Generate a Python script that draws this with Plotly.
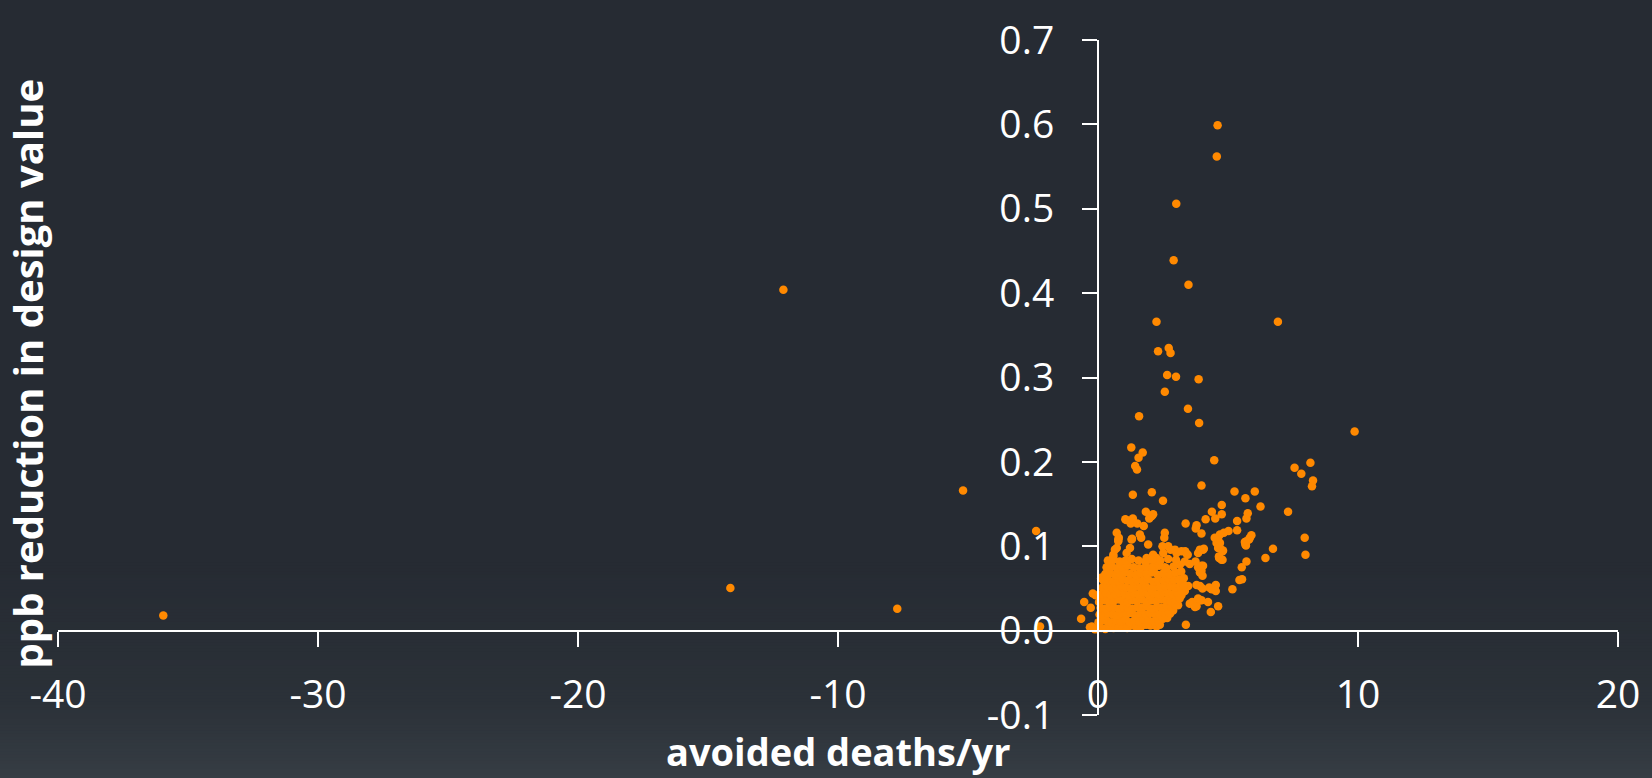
import plotly.graph_objects as go

# ---------------- data (avoided deaths/yr , ppb reduction in design value) ----------------
out_deaths = [-35.95, -14.14, -12.10, -7.72, -5.19, -2.38, -2.23]
out_ppb = [0.018, 0.0505, 0.404, 0.026, 0.166, 0.118, 0.005]

upper_deaths = [4.60, 4.57, 3.01, 2.91, 3.48, 2.25, 6.92, 2.31, 2.72, 2.79, 2.66, 3.00, 3.87, 2.57,
                3.46, 1.58, 3.89, 9.87, 1.28, 1.72, 1.56, 1.43, 1.50, 4.47, 8.17, 7.56, 7.82, 8.27,
                8.23, 3.98, 5.25, 6.03, 2.07, 1.34, 5.67, 2.50, 4.76, 6.25, 7.31, 4.38, 1.84, 5.76,
                4.76, 2.12, 2.07, 2.02, 1.97, 5.71, 4.51, 1.34, 1.09, 1.05, 4.14, 5.35, 3.37, 1.26,
                1.51, 3.79, 1.76, 3.76, 5.35, 5.02, 4.84, 2.57, 0.72, 3.98, 1.61, 4.69, 5.84, 7.95,
                4.62, 0.80, 1.66, 2.55, 1.31, 0.78, 5.71, 4.56, 5.67, 2.48, 2.70, 4.69, 6.73, 4.07,
                2.79, 3.92, 0.65, 2.96, 4.04, 4.79, 3.35, 3.21, 3.02, 3.85, 3.41, 2.12, 3.45, 7.98,
                4.65, 0.59, 6.44, 2.25, 4.75, 1.96, 3.75, 5.71, 3.34, 3.53, 3.98, 4.04, 3.85, 5.53,
                1.81, 2.15, 3.98, 3.92, 0.12, 5.44, 5.54, 4.53, 3.79, 3.92, 3.15, 3.47, 4.28, 4.02,
                5.17, 4.37, 4.53, 3.34, -0.20, -0.09, 3.15, 3.21, 3.92, 3.98, 3.85, -0.53, 0.04,
                4.23, 3.62, 3.02, 3.53, 2.83, 3.08, 4.62, 3.79, 3.73, -0.28, 2.89, 4.34, 2.77, -0.65,
                3.38, -0.31, -0.12, 4.02, 5.90, 5.81, 5.65, 5.69, 4.49, 4.69, 4.62, 4.81, 4.66, 4.79,
                0.78, 1.29, 1.93, 1.87, 1.23, 1.10, 0.72, 0.59, 2.25, 2.51, 2.57, 2.12, 1.74, 0.14,
                -0.24, 2.25]
upper_ppb = [0.599, 0.562, 0.506, 0.439, 0.410, 0.366, 0.366, 0.331, 0.335, 0.329, 0.303, 0.301, 0.298,
             0.283, 0.263, 0.254, 0.246, 0.236, 0.217, 0.211, 0.205, 0.195, 0.191, 0.202, 0.199,
             0.193, 0.186, 0.178, 0.171, 0.172, 0.165, 0.165, 0.164, 0.161, 0.157, 0.154, 0.149,
             0.147, 0.141, 0.141, 0.141, 0.139, 0.138, 0.138, 0.136, 0.135, 0.133, 0.133, 0.133,
             0.133, 0.131, 0.132, 0.132, 0.130, 0.127, 0.127, 0.127, 0.125, 0.124, 0.121, 0.119,
             0.118, 0.116, 0.116, 0.116, 0.115, 0.114, 0.114, 0.110, 0.110, 0.110, 0.110, 0.110,
             0.110, 0.109, 0.108, 0.106, 0.104, 0.102, 0.100, 0.100, 0.098, 0.097, 0.097, 0.096,
             0.096, 0.096, 0.096, 0.096, 0.094, 0.094, 0.094, 0.092, 0.092, 0.091, 0.090, 0.090,
             0.090, 0.088, 0.088, 0.086, 0.086, 0.084, 0.084, 0.082, 0.082, 0.082, 0.079, 0.077,
             0.077, 0.075, 0.075, 0.073, 0.073, 0.071, 0.069, 0.062, 0.060, 0.061, 0.054, 0.054,
             0.053, 0.053, 0.053, 0.051, 0.050, 0.049, 0.049, 0.047, 0.047, 0.044, 0.042, 0.042,
             0.042, 0.036, 0.036, 0.038, 0.034, 0.034, 0.034, 0.034, 0.034, 0.032, 0.030, 0.030,
             0.029, 0.029, 0.028, 0.027, 0.024, 0.022, 0.020, 0.014, 0.007, 0.004, 0.0015, 0.065,
             0.113, 0.108, 0.105, 0.101, 0.110, 0.104, 0.098, 0.095, 0.086, 0.084, 0.106, 0.108,
             0.102, 0.086, 0.098, 0.092, 0.098, 0.090, 0.082, 0.092, 0.075, 0.071, 0.073, 0.063,
             0.005, 0.005]

core_deaths = [
    -0.05, 0.12, 0.28, 0.45, 0.60, 0.78, 0.95, 1.12, 1.30, 1.48, 1.66, 1.85, 2.02, 2.20, 2.38,
    0.02, 0.18, 0.35, 0.52, 0.70, 0.86, 1.04, 1.22, 1.40, 1.58, 1.76, 1.95, 2.14, 2.32, 2.50, 2.66,
    0.06, 0.22, 0.40, 0.57, 0.74, 0.92, 1.10, 1.27, 1.45, 1.63, 1.82, 2.00, 2.18, 2.37, 2.55, 2.72,
    0.10, 0.27, 0.44, 0.62, 0.80, 0.97, 1.15, 1.33, 1.52, 1.70, 1.88, 2.07, 2.26, 2.45, 2.63, 2.82, 2.98,
    0.08, 0.25, 0.42, 0.60, 0.78, 0.95, 1.13, 1.31, 1.50, 1.68, 1.87, 2.05, 2.24, 2.43, 2.62, 2.80, 2.97, 3.14,
    0.13, 0.30, 0.48, 0.66, 0.84, 1.02, 1.20, 1.38, 1.57, 1.76, 1.95, 2.14, 2.33, 2.52, 2.70, 2.88, 3.05, 3.22,
    0.17, 0.35, 0.53, 0.71, 0.89, 1.07, 1.26, 1.45, 1.64, 1.83, 2.02, 2.21, 2.40, 2.59, 2.78, 2.97, 3.15, 3.30,
    0.22, 0.40, 0.58, 0.77, 0.95, 1.14, 1.33, 1.52, 1.72, 1.92, 2.12, 2.32, 2.52, 2.72, 2.92, 3.12, 3.30,
    0.28, 0.47, 0.66, 0.85, 1.04, 1.24, 1.44, 1.65, 1.86, 2.07, 2.30, 2.52, 2.75, 2.98, 3.20,
    0.33, 0.53, 0.73, 0.94, 1.15, 1.37, 1.60, 1.84, 2.08, 2.35, 2.62, 2.90, 3.15,
    0.38, 0.60, 0.83, 1.06, 1.30, 1.56, 1.82, 2.10, 2.40, 2.70, 3.00,
]
core_ppb = [
    0.002, 0.003, 0.002, 0.004, 0.003, 0.004, 0.005, 0.003, 0.006, 0.004, 0.005, 0.007, 0.006, 0.008, 0.007,
    0.010, 0.012, 0.011, 0.010, 0.012, 0.011, 0.013, 0.010, 0.012, 0.011, 0.013, 0.012, 0.011, 0.013, 0.014, 0.015,
    0.019, 0.018, 0.020, 0.019, 0.018, 0.020, 0.019, 0.021, 0.018, 0.020, 0.019, 0.021, 0.020, 0.019, 0.021, 0.022,
    0.027, 0.026, 0.028, 0.027, 0.026, 0.028, 0.027, 0.026, 0.028, 0.027, 0.029, 0.026, 0.028, 0.027, 0.029, 0.028, 0.030,
    0.035, 0.036, 0.034, 0.035, 0.037, 0.035, 0.034, 0.036, 0.035, 0.037, 0.034, 0.036, 0.035, 0.037, 0.036, 0.035, 0.037, 0.038,
    0.043, 0.044, 0.042, 0.043, 0.045, 0.043, 0.042, 0.044, 0.043, 0.045, 0.042, 0.044, 0.043, 0.045, 0.044, 0.043, 0.045, 0.046,
    0.051, 0.052, 0.050, 0.051, 0.053, 0.051, 0.050, 0.052, 0.051, 0.053, 0.050, 0.052, 0.051, 0.053, 0.052, 0.051, 0.053, 0.054,
    0.059, 0.060, 0.058, 0.059, 0.061, 0.059, 0.058, 0.060, 0.059, 0.061, 0.058, 0.060, 0.059, 0.061, 0.060, 0.061, 0.062,
    0.067, 0.068, 0.066, 0.067, 0.069, 0.067, 0.066, 0.068, 0.067, 0.069, 0.066, 0.068, 0.067, 0.069, 0.070,
    0.075, 0.076, 0.074, 0.075, 0.077, 0.075, 0.074, 0.076, 0.075, 0.077, 0.074, 0.076, 0.078,
    0.083, 0.084, 0.082, 0.083, 0.085, 0.083, 0.082, 0.084, 0.083, 0.085, 0.084,
]

x_ticks = [-40, -30, -20, -10, 0, 10, 20]
x_tick_labels = ["-40", "-30", "-20", "-10", "0", "10", "20"]
y_ticks = [-0.1, 0.0, 0.1, 0.2, 0.3, 0.4, 0.5, 0.6, 0.7]
y_tick_labels = ["-0.1", "0.0", "0.1", "0.2", "0.3", "0.4", "0.5", "0.6", "0.7"]

# ---------------- figure ----------------
W, H = 1652, 778
ML, MR, MT, MB = 58, 32, 28, 63
plot_h = H - MT - MB

all_x = out_deaths + upper_deaths + core_deaths
all_y = out_ppb + upper_ppb + core_ppb

fig = go.Figure()
fig.add_trace(go.Scatter(
    x=all_x, y=all_y, mode="markers",
    marker=dict(color="#FF8900", size=8.5, line=dict(width=0)),
    hoverinfo="x+y", showlegend=False,
))

# background gradient (darker top, lighter bottom)
def lerp(c1, c2, t):
    return tuple(round(a + (b - a) * t) for a, b in zip(c1, c2))

top_c = (38, 43, 51)
mid_c = (43, 49, 56)
bot_c = (54, 61, 68)
shapes = []
step = 3
for py in range(560, H, step):
    if py < 700:
        c = lerp(top_c, mid_c, (py - 560) / 140)
    else:
        c = lerp(mid_c, bot_c, (py - 700) / (H - 700))
    y1 = (H - MB - py) / plot_h
    y0 = (H - MB - (py + step + 1)) / plot_h
    shapes.append(dict(type="rect", xref="paper", yref="paper", x0=-0.1, x1=1.1,
                       y0=y0, y1=y1, fillcolor="rgb(%d,%d,%d)" % c,
                       line=dict(width=0), layer="below"))

FONT = "Open Sans, DejaVu Sans, sans-serif"
tick_font = dict(family=FONT, size=39, color="#FFFFFF")
axis_common = dict(
    showline=True, linecolor="#FFFFFF", linewidth=2,
    ticks="outside", ticklen=15, tickwidth=2, tickcolor="#FFFFFF",
    showgrid=False, zeroline=False, tickfont=tick_font, anchor="free",
    ticklabeloverflow="allow",
)

fig.update_layout(
    width=W, height=H,
    margin=dict(l=ML, r=MR, t=MT, b=MB, pad=0),
    paper_bgcolor="rgb(38,43,51)",
    plot_bgcolor="rgba(0,0,0,0)",
    shapes=shapes,
    xaxis=dict(range=[-40, 20], tickvals=x_ticks, ticktext=x_tick_labels,
               position=(0 - (-0.1)) / 0.8, ticklabelstandoff=15, **axis_common),
    yaxis=dict(range=[-0.1, 0.7], tickvals=y_ticks, ticktext=y_tick_labels,
               position=(0 - (-40)) / 60, ticklabelstandoff=20, **axis_common),
    annotations=[
        dict(text="<b>avoided deaths/yr</b>", xref="paper", yref="paper", x=0.5,
             y=(715 - 752) / plot_h,
             xanchor="center", yanchor="middle", showarrow=False,
             font=dict(family=FONT, size=38, color="#FFFFFF")),
        dict(text="<b>ppb reduction in design value</b>", xref="paper", yref="paper",
             x=(27 - ML) / (W - ML - MR), y=0.506, xanchor="center", yanchor="middle",
             textangle=-90, showarrow=False,
             font=dict(family=FONT, size=40, color="#FFFFFF")),
    ],
)

fig.write_html(
    "out.html",
    config={"displayModeBar": False},
    post_script="document.body.style.margin='0';document.body.style.overflow='hidden';"
                "document.body.style.background='rgb(54,61,68)';",
)
